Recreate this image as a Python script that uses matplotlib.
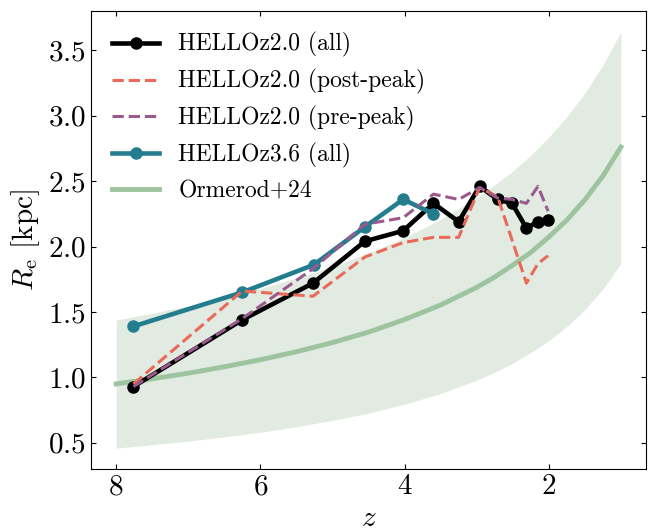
import matplotlib
matplotlib.use('Agg')
import matplotlib.pyplot as plt
import numpy as np

plt.rcParams['font.family'] = 'serif'
plt.rcParams['font.serif'] = ['cmr10', 'DejaVu Serif']
plt.rcParams['mathtext.fontset'] = 'cm'
plt.rcParams['axes.formatter.use_mathtext'] = True

# HELLO snapshots
z_snap = [7.76, 6.25, 5.27, 4.55, 4.02, 3.60, 3.25, 2.96, 2.71, 2.51, 2.31, 2.15, 2.01]
re_all = [0.93, 1.44, 1.72, 2.04, 2.12, 2.33, 2.19, 2.46, 2.36, 2.33, 2.14, 2.19, 2.20]
re_post = [0.95, 1.66, 1.62, 1.92, 2.03, 2.07, 2.07, 2.45, 2.38, 2.05, 1.72, 1.87, 1.93]
re_pre = [0.93, 1.45, 1.83, 2.17, 2.22, 2.40, 2.36, 2.45, 2.37, 2.36, 2.33, 2.46, 2.27]

z_36 = [7.76, 6.25, 5.26, 4.55, 4.02, 3.60]
re_36 = [1.39, 1.65, 1.86, 2.15, 2.36, 2.25]

# Ormerod+24 relation
z_orm = [8.0, 7.5, 7.0, 6.5, 6.0, 5.5, 5.0, 4.5, 4.0, 3.5, 3.0, 2.75, 2.5, 2.25,
         2.0, 1.75, 1.5, 1.25, 1.0]
re_orm = [0.950, 0.989, 1.032, 1.081, 1.135, 1.196, 1.266, 1.346, 1.442, 1.553,
          1.688, 1.767, 1.858, 1.955, 2.073, 2.202, 2.357, 2.539, 2.760]
re_orm_lo = [0.460, 0.485, 0.513, 0.545, 0.581, 0.623, 0.671, 0.727, 0.795, 0.877,
             0.979, 1.040, 1.109, 1.189, 1.281, 1.389, 1.519, 1.675, 1.870]
re_orm_hi = [1.438, 1.490, 1.548, 1.610, 1.680, 1.760, 1.848, 1.950, 2.068, 2.207,
             2.373, 2.470, 2.576, 2.697, 2.835, 2.991, 3.172, 3.385, 3.640]

fig = plt.figure(figsize=(6.54, 5.28), dpi=100)
ax = fig.add_axes([0.139, 0.112, 0.849, 0.867])

ax.fill_between(z_orm, re_orm_lo, re_orm_hi, color='#e1ebe1', lw=0, zorder=1)
l5, = ax.plot(z_orm, re_orm, color='#9dc49e', lw=3.5, zorder=2, label='Ormerod+24')

l1, = ax.plot(z_snap, re_all, color='k', lw=3.3, marker='o', ms=8, zorder=3,
              label='HELLOz2.0 (all)')
l2, = ax.plot(z_snap, re_post, color='#ea6a5a', lw=2.2, ls='--', zorder=4,
              label='HELLOz2.0 (post-peak)')
l3, = ax.plot(z_snap, re_pre, color='#9a5a8e', lw=2.2, ls='--', zorder=4,
              label='HELLOz2.0 (pre-peak)')
l4, = ax.plot(z_36, re_36, color='#247d8f', lw=3.3, marker='o', ms=8, zorder=3,
              label='HELLOz3.6 (all)')

ax.invert_xaxis()
ax.set_xticks([8, 6, 4, 2])
ax.set_yticks([0.5, 1.0, 1.5, 2.0, 2.5, 3.0, 3.5])
ax.tick_params(direction='in', top=True, right=True, labelsize=21)
ax.set_xlabel('$z$', fontsize=21)
ax.set_ylabel(r'$R_{\rm e}$ [kpc]', fontsize=21)

ax.legend(handles=[l1, l2, l3, l4, l5], loc='upper left', frameon=False,
          fontsize=17, numpoints=1)

plt.savefig('out.png', dpi=100)
